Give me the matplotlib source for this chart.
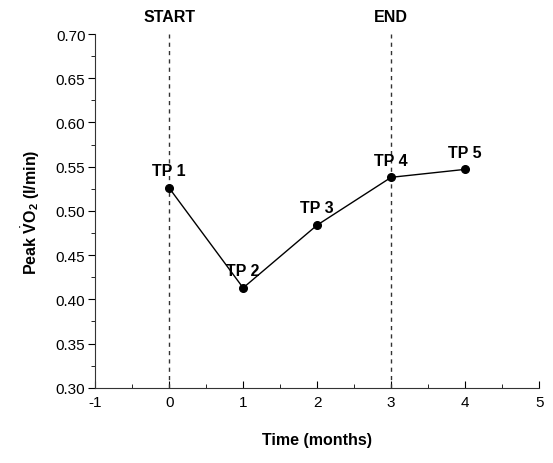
import matplotlib
matplotlib.use("Agg")
import matplotlib.pyplot as plt
from matplotlib.ticker import MultipleLocator

plt.rcParams['font.family'] = ['Liberation Sans', 'DejaVu Sans']
plt.rcParams['mathtext.fontset'] = 'custom'
plt.rcParams['mathtext.rm'] = 'Liberation Sans'
plt.rcParams['mathtext.bf'] = 'Liberation Sans:bold'
plt.rcParams['axes.unicode_minus'] = False

# data
months = [0, 1, 2, 3, 4]
peak_vo2 = [0.526, 0.413, 0.484, 0.538, 0.547]
tp_labels = ['TP 1', 'TP 2', 'TP 3', 'TP 4', 'TP 5']
markers_x = [0, 3]
markers_txt = ['START', 'END']

fig = plt.figure(figsize=(5.53, 4.64), dpi=100)
ax = fig.add_axes([0.172, 0.162, 0.803, 0.7625])

ax.plot(months, peak_vo2, color='black', lw=1, marker='o', ms=5.5, zorder=3)
for x, y, t in zip(months, peak_vo2, tp_labels):
    ax.annotate(t, (x, y), xytext=(0, 7), textcoords='offset points',
                ha='center', va='bottom', fontsize=11.5, fontweight='bold')

for x, t in zip(markers_x, markers_txt):
    ax.axvline(x, color='#333333', ls=(0, (3, 3)), lw=1)
    ax.text(x, 0.711, t, ha='center', va='bottom', fontsize=11.5,
            fontweight='bold')

ax.set_xlim(-1, 5)
ax.set_ylim(0.30, 0.70)
ax.xaxis.set_major_locator(MultipleLocator(1))
ax.xaxis.set_minor_locator(MultipleLocator(0.5))
ax.yaxis.set_major_locator(MultipleLocator(0.05))
ax.yaxis.set_minor_locator(MultipleLocator(0.025))
ax.yaxis.set_major_formatter(matplotlib.ticker.FormatStrFormatter('%.2f'))

ax.tick_params(axis='x', which='both', direction='in', labelsize=11, pad=5)
ax.tick_params(axis='y', which='both', direction='out', labelsize=11, pad=2)
ax.tick_params(which='major', length=5)
ax.tick_params(which='minor', length=3)

for s in ['top', 'right']:
    ax.spines[s].set_visible(False)
for s in ['left', 'bottom']:
    ax.spines[s].set_color('#333333')

ax.set_xlabel('Time (months)', fontsize=11.5, fontweight='bold', labelpad=17)
ax.set_ylabel(r'Peak $\dot{\mathbf{V}}\mathbf{O}_\mathbf{2}$ (l/min)', fontsize=11.5,
              fontweight='bold', labelpad=10)

fig.savefig('out.png', dpi=100)
